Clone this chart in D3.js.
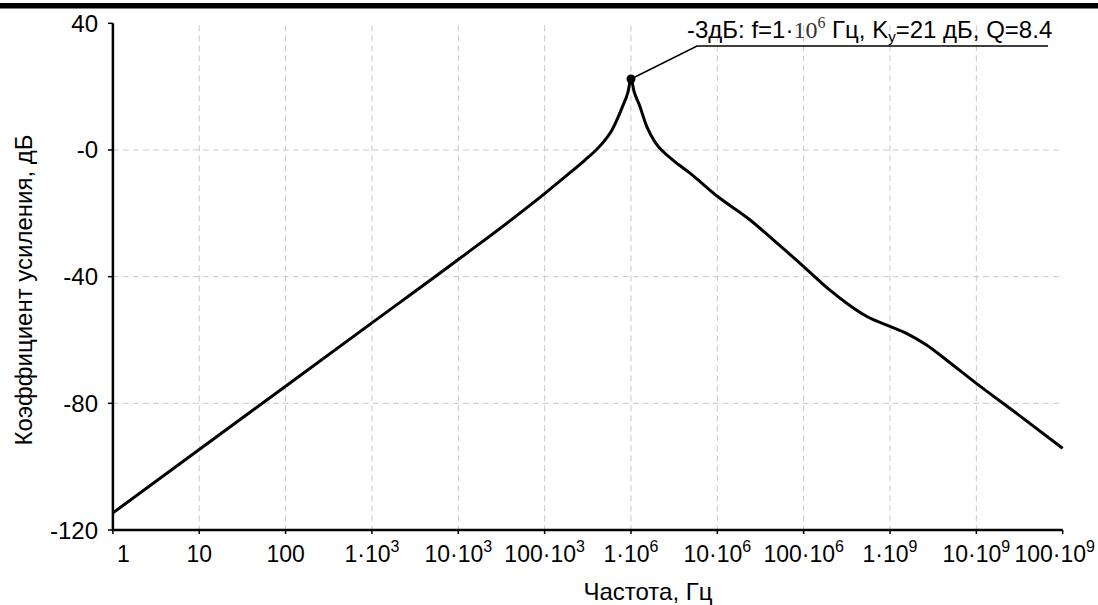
<!DOCTYPE html>
<html><head><meta charset="utf-8">
<script src="https://cdn.jsdelivr.net/npm/d3@7"></script>
<style>body{margin:0;background:#fff}svg{display:block}text{font-family:Arial,"Liberation Sans",sans-serif}</style>
</head><body><svg id="c" width="1098" height="605"></svg>
<script>
const freqs = [1,10,100,1e3,1e4,1e5,1.72e5,2.93e5,4.38e5,6.03e5,7.87e5,9.23e5,1e6,1.09e6,1.24e6,1.53e6,1.9e6,2.29e6,3.06e6,4.82e6,1e7,2.4e7,4.45e7,1e8,2e8,3.15e8,5.4e8,1e9,1.55e9,2.65e9,4.5e9,1e10,3e10,1e11];
const gains = [-114.6,-94.6,-74.6,-54.6,-34.6,-13.8,-8.5,-3.2,1.3,6.3,13.3,18.3,22.4,18.3,14.5,7.3,2.5,-0.2,-3.2,-7.3,-14.6,-22.1,-28.4,-36.8,-44.2,-48.4,-52.6,-55.7,-57.9,-61.6,-66.3,-73.7,-83.4,-94.2];
const xTicks = [1,10,100,1e3,1e4,1e5,1e6,1e7,1e8,1e9,1e10,1e11];
const xMant = ["1","10","100","1·10","10·10","100·10","1·10","10·10","100·10","1·10","10·10","100·10"];
const xExp = ["","","","3","3","3","6","6","6","9","9","9"];
const yTicks = [40,0,-40,-80,-120];
const yLabels = ["40","-0","-40","-80","-120"];
const peak = {f:1e6, g:22.4, text:["-3дБ: f=1·","10","6"," Гц, K","у","=21 дБ, Q=8.4"]};

const svg = d3.select("#c");
const x = d3.scaleLog().domain([1,1e11]).range([112.9,1062.7]);
const y = d3.scaleLinear().domain([-120,40]).range([530,23.3]);

svg.append("rect").attr("x",0).attr("y",3).attr("width",1098).attr("height",5.5).attr("fill","#000");

// grid
svg.append("g").selectAll("line").data(xTicks.slice(1,-1)).join("line")
  .attr("x1",d=>x(d)).attr("x2",d=>x(d)).attr("y1",y(40)+2).attr("y2",y(-120))
  .attr("stroke","#c8c8c8").attr("stroke-width",1).attr("stroke-dasharray","6,4");
svg.append("g").selectAll("line").data([0,-40,-80]).join("line")
  .attr("x1",x(1)).attr("x2",x(1e11)).attr("y1",d=>y(d)).attr("y2",d=>y(d))
  .attr("stroke","#c8c8c8").attr("stroke-width",1).attr("stroke-dasharray","6,4");

// axes
svg.append("line").attr("x1",x(1)).attr("x2",x(1)).attr("y1",y(40)).attr("y2",y(-120)+1).attr("stroke","#000").attr("stroke-width",2.5);
svg.append("line").attr("x1",x(1)-1).attr("x2",x(1e11)).attr("y1",y(-120)).attr("y2",y(-120)).attr("stroke","#000").attr("stroke-width",2.5);
svg.append("g").selectAll("line").data(yTicks).join("line")
  .attr("x1",x(1)-5).attr("x2",x(1)).attr("y1",d=>y(d)).attr("y2",d=>y(d)).attr("stroke","#000").attr("stroke-width",1.5);
svg.append("g").selectAll("line").data(xTicks).join("line")
  .attr("x1",d=>x(d)).attr("x2",d=>x(d)).attr("y1",y(-120)).attr("y2",y(-120)+4).attr("stroke","#000").attr("stroke-width",1.5);

// y labels
svg.append("g").selectAll("text").data(yTicks).join("text")
  .attr("x",98).attr("y",d=>y(d)+8.5).attr("text-anchor","end").attr("font-size",24)
  .text((d,i)=>yLabels[i]);

// x labels
const xl = svg.append("g").selectAll("text").data(xTicks).join("text")
  .attr("y",562).attr("font-size",23).attr("text-anchor","middle");
xl.each(function(d,i){
  const t=d3.select(this);
  t.append("tspan").text(xMant[i]);
  if(xExp[i]) t.append("tspan").attr("font-size",16).attr("dy",-10).text(xExp[i]);
  const w=this.getComputedTextLength();
  let cx=x(d);
  if(cx-w/2<117) cx=117+w/2;
  if(cx+w/2>1095) cx=1095-w/2;
  t.attr("x",cx);
});

// axis titles
svg.append("text").attr("x",648).attr("y",600).attr("text-anchor","middle").attr("font-size",24).text("Частота, Гц");
svg.append("text").attr("transform","translate(32,290) rotate(-90)").attr("text-anchor","middle").attr("font-size",24).text("Коэффициент усиления, дБ");

// curve
const data = freqs.map((f,i)=>({f,g:gains[i]}));
svg.append("path").datum(data)
  .attr("d",d3.line().x(d=>x(d.f)).y(d=>y(d.g)).curve(d3.curveMonotoneX))
  .attr("fill","none").attr("stroke","#000").attr("stroke-width",3).attr("stroke-linejoin","round");

// annotation
const px=x(peak.f), py=y(peak.g);
svg.append("polyline").attr("points",`${px},${py} 697,46 1048,46`).attr("fill","none").attr("stroke","#000").attr("stroke-width",1.6);
svg.append("circle").attr("cx",px).attr("cy",py).attr("r",4.5).attr("fill","#000");
const at = svg.append("text").attr("x",687).attr("y",38).attr("font-size",24);
at.append("tspan").text(peak.text[0]);
at.append("tspan").attr("font-family","'Liberation Serif','Times New Roman',serif").attr("fill","#333").attr("font-size",24).text(peak.text[1]);
at.append("tspan").attr("font-family","'Liberation Serif','Times New Roman',serif").attr("fill","#333").attr("font-size",16).attr("dy",-10).text(peak.text[2]);
at.append("tspan").attr("dy",10).text(peak.text[3]);
at.append("tspan").attr("font-size",15).attr("dy",4).text(peak.text[4]);
at.append("tspan").attr("dy",-4).text(peak.text[5]);
</script></body></html>
